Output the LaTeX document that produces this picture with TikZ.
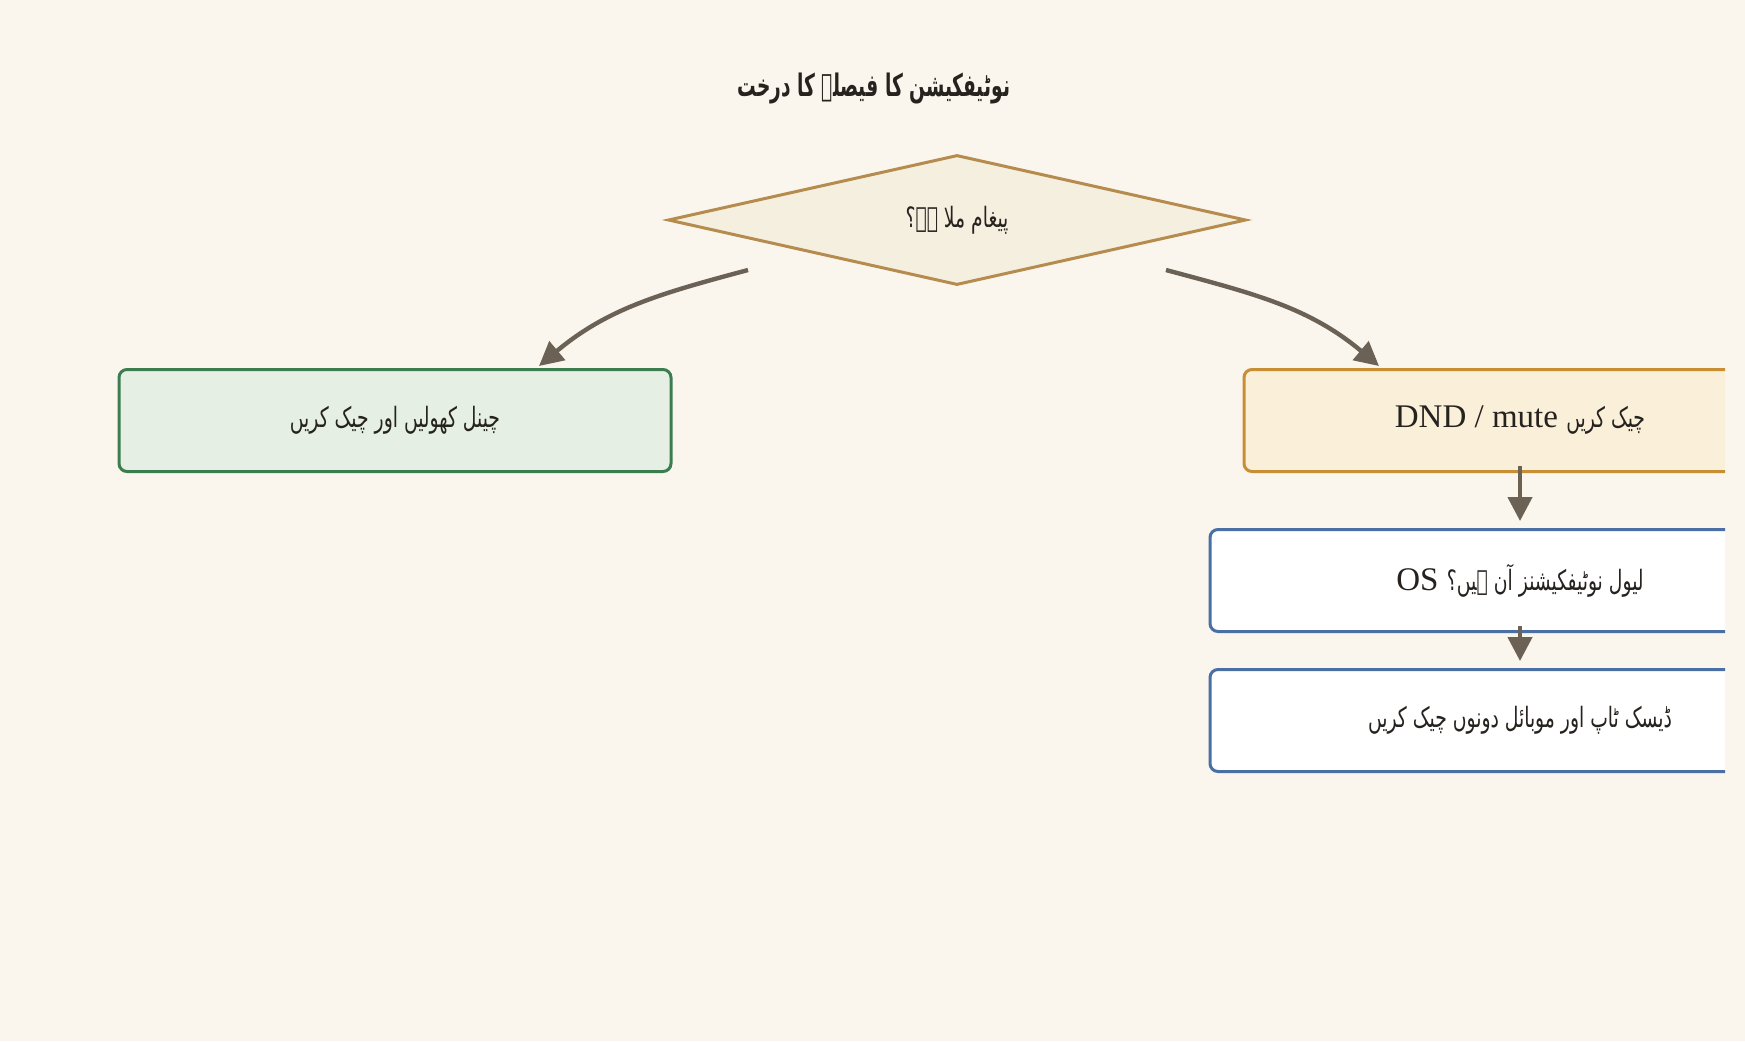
\documentclass[tikz,border=0pt]{standalone}
\usepackage{fontspec}
\setmainfont{Liberation Serif}
\newfontfamily\urdufont[Script=Arabic,FakeStretch=0.67]{DejaVu Sans}
\newfontfamily\urdutitlefont[Script=Arabic,FakeStretch=0.6]{DejaVu Sans}
\TeXXeTstate=1
\usetikzlibrary{shapes.geometric,arrows.meta}
\definecolor{paper}{RGB}{250,246,238}
\definecolor{ink}{RGB}{38,34,30}
\definecolor{arrowgray}{RGB}{107,97,85}
\definecolor{qfill}{RGB}{245,239,224}
\definecolor{qdraw}{RGB}{181,139,78}
\definecolor{okfill}{RGB}{230,239,228}
\definecolor{okdraw}{RGB}{60,125,80}
\definecolor{warnfill}{RGB}{250,240,218}
\definecolor{warndraw}{RGB}{200,142,52}
\definecolor{stepdraw}{RGB}{74,111,165}
\newcommand{\ur}[1]{{\urdufont\fontsize{14}{17}\selectfont\beginR #1\endR}}

\begin{document}
\begin{tikzpicture}[x=0.5pt,y=-0.5pt,
  every node/.style={text=ink},
  box/.style={draw, line width=1.5pt, rounded corners=4pt, minimum height=51pt, inner sep=0pt, font=\fontsize{16.5}{20}\selectfont},
  question/.style={diamond, aspect=4.45, draw=qdraw, fill=qfill, line width=1.5pt, inner sep=0pt, minimum width=289pt, minimum height=65pt},
  flow/.style={draw=arrowgray, line width=2.2pt, -{Triangle[length=12pt,width=12pt]}}]
\fill[paper] (0,0) rectangle (1745,1041);
\useasboundingbox (0,0) rectangle (1745,1041);

\node[font=\urdutitlefont\fontsize{15.5}{18}\selectfont\bfseries] (title) at (874,88) {\beginR نوٹیفکیشن کا فیصلے کا درخت\endR};
\node[question] (received) at (957,220) {\ur{پیغام ملا ہے؟}};
\node[box, draw=okdraw, fill=okfill, minimum width=276pt] (openchannel) at (395,420.5) {\ur{چینل کھولیں اور چیک کریں}};

\begin{scope}
\clip (0,0) rectangle (1725,1041);
\node[box, draw=warndraw, fill=warnfill, minimum width=276pt] (dnd) at (1520,420.5) {DND / mute \ur{چیک کریں}};
\node[box, draw=stepdraw, fill=white, minimum width=310pt] (oslevel) at (1520,580.5) {OS \ur{لیول نوٹیفکیشنز آن ہیں؟}};
\node[box, draw=stepdraw, fill=white, minimum width=310pt] (devices) at (1520,720.5) {\ur{ڈیسک ٹاپ اور موبائل دونوں چیک کریں}};
\end{scope}

\coordinate (noout) at (748,270);
\coordinate (noin) at (539,366);
\coordinate (yesout) at (1166,270);
\coordinate (yesin) at (1379,366);
\draw[flow] (noout) to[out=195,in=40] (noin);
\draw[flow] (yesout) to[out=-15,in=140] (yesin);
\draw[flow] ([yshift=3.5pt]dnd.south) -- ([yshift=3.5pt]oslevel.north);
\draw[flow] ([yshift=3.5pt]oslevel.south) -- ([yshift=3.5pt]devices.north);
\end{tikzpicture}
\end{document}
